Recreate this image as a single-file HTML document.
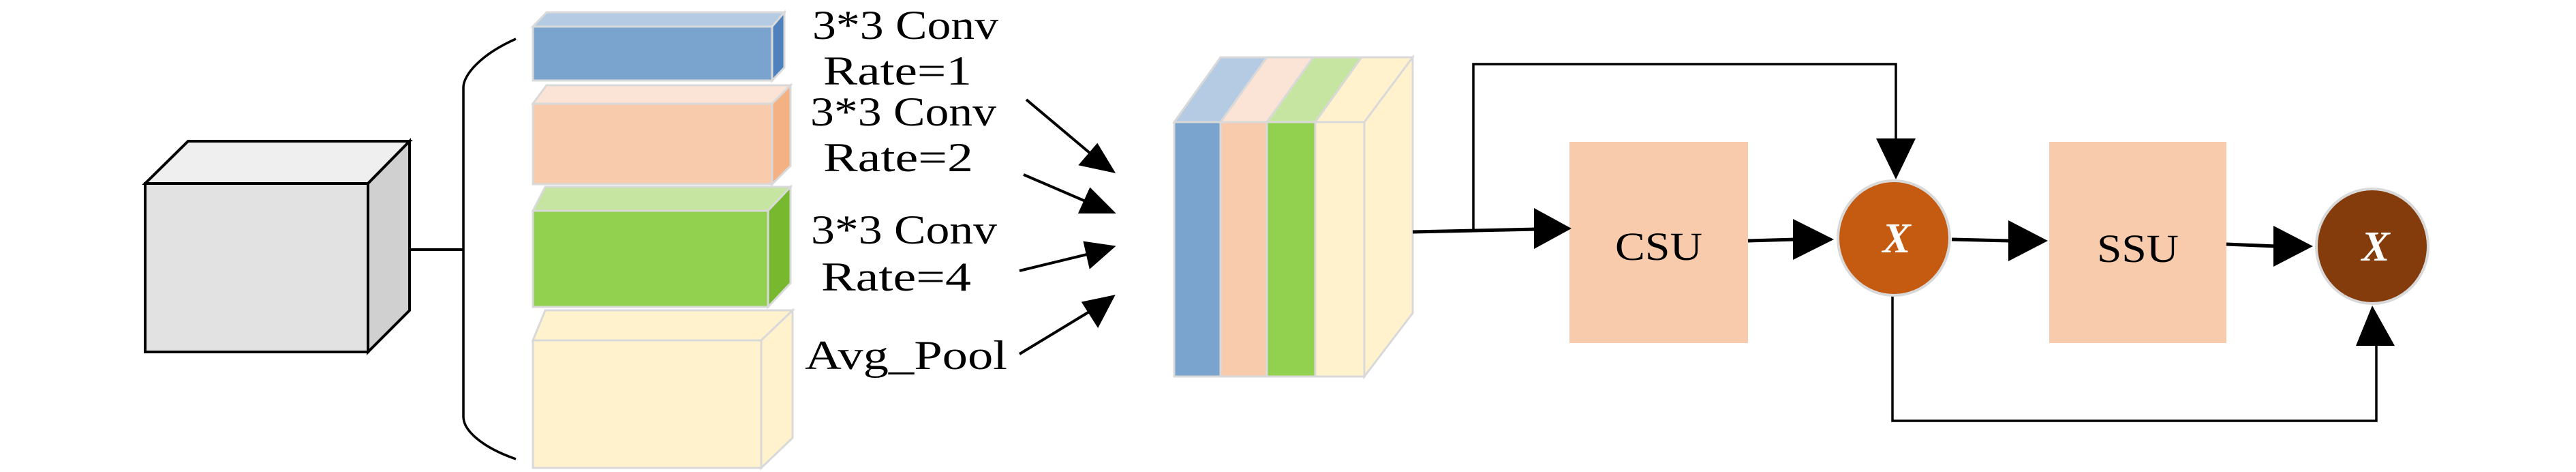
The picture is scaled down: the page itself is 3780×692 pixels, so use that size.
<!DOCTYPE html>
<html><head><meta charset="utf-8"><style>html,body{margin:0;padding:0;background:#fff;}svg{display:block}</style></head>
<body>
<svg width="3780" height="692" viewBox="0 0 3780 692" xmlns="http://www.w3.org/2000/svg">
<defs>
<marker id="ah" markerWidth="10" markerHeight="10" refX="10" refY="5" orient="auto" markerUnits="userSpaceOnUse" viewBox="0 0 10 10">
</marker>
</defs>
<g stroke-linejoin="miter">
<!-- gray cube -->
<polygon points="213,269 276,207 601,207 540,269" fill="#efefef" stroke="#000" stroke-width="4"/>
<polygon points="540,269 601,207 601,455 540,516" fill="#d0d0d0" stroke="#000" stroke-width="4"/>
<rect x="213" y="269" width="327" height="247" fill="#e2e2e2" stroke="#000" stroke-width="4"/>
<line x1="601" y1="366" x2="680" y2="366" stroke="#000" stroke-width="4"/>
<!-- brace -->
<path d="M757,57 C705,80 680,110 680,128 L680,611 C680,630 705,655 757,673" fill="none" stroke="#000" stroke-width="3.5"/>

<!-- blue -->
<polygon points="782,39 802,18 1151,18 1133,39" fill="#b4cbe3" stroke="#d9d9d9" stroke-width="3"/>
<polygon points="1133,39 1151,18 1151,99 1133,118" fill="#4f81bd" stroke="#d9d9d9" stroke-width="3"/>
<rect x="782" y="39" width="351" height="79" fill="#7aa3cd" stroke="#d9d9d9" stroke-width="3"/>
<!-- orange -->
<polygon points="782,152 802,125 1160,125 1133,152" fill="#fbe3d5" stroke="#d9d9d9" stroke-width="3"/>
<polygon points="1133,152 1160,125 1160,243 1133,270" fill="#f4b183" stroke="#d9d9d9" stroke-width="3"/>
<rect x="782" y="152" width="351" height="118" fill="#f8cbad" stroke="#d9d9d9" stroke-width="3"/>
<!-- green -->
<polygon points="782,309 800,274 1160,274 1127,309" fill="#c5e5a0" stroke="#d9d9d9" stroke-width="3"/>
<polygon points="1127,309 1160,274 1160,415 1127,450" fill="#77b82f" stroke="#d9d9d9" stroke-width="3"/>
<rect x="782" y="309" width="345" height="141" fill="#92d050" stroke="#d9d9d9" stroke-width="3"/>
<!-- yellow -->
<polygon points="782,499 800,455 1163,455 1117,499" fill="#fff2cc" stroke="#d9d9d9" stroke-width="3"/>
<polygon points="1117,499 1163,455 1163,642 1117,686" fill="#fff2cc" stroke="#d9d9d9" stroke-width="3"/>
<rect x="782" y="499" width="335" height="187" fill="#fff2cc" stroke="#d9d9d9" stroke-width="3"/>
</g>

<g font-family="'Liberation Serif', serif" font-size="60" fill="#000">
<text x="1192" y="57" textLength="273" lengthAdjust="spacingAndGlyphs">3*3 Conv</text>
<text x="1208" y="124" textLength="218" lengthAdjust="spacingAndGlyphs">Rate=1</text>
<text x="1189" y="184" textLength="273" lengthAdjust="spacingAndGlyphs">3*3 Conv</text>
<text x="1208" y="251" textLength="220" lengthAdjust="spacingAndGlyphs">Rate=2</text>
<text x="1190" y="357" textLength="273" lengthAdjust="spacingAndGlyphs">3*3 Conv</text>
<text x="1205" y="426" textLength="220" lengthAdjust="spacingAndGlyphs">Rate=4</text>
<text x="1181" y="541" textLength="297" lengthAdjust="spacingAndGlyphs">Avg_Pool</text>
</g>

<!-- input arrows -->
<g stroke="#000" stroke-width="4" fill="#000">
<line x1="1506" y1="146" x2="1600" y2="225"/>
<polygon points="1633,251 1586,241 1610,213"/>
<line x1="1502" y1="256" x2="1595" y2="296"/>
<polygon points="1633,311 1585,311 1600,278"/>
<line x1="1496" y1="397" x2="1595" y2="373"/>
<polygon points="1633,362 1600,391 1592,356"/>
<line x1="1496" y1="519" x2="1600" y2="456"/>
<polygon points="1633,435 1611,477 1590,444"/>
</g>

<!-- concat block -->
<g stroke="#d9d9d9" stroke-width="3">
<polygon points="1723,179 1791,179 1859,84 1791,84" fill="#b4cbe3"/>
<polygon points="1791,179 1859,179 1927,84 1859,84" fill="#fbe3d5"/>
<polygon points="1859,179 1930,179 1998,84 1927,84" fill="#c5e5a0"/>
<polygon points="1930,179 2002,179 2073,84 1998,84" fill="#fff2cc"/>
<polygon points="2002,179 2073,84 2073,459 2002,552" fill="#fff2cc"/>
<rect x="1723" y="179" width="68" height="373" fill="#7aa3cd"/>
<rect x="1791" y="179" width="68" height="373" fill="#f8cbad"/>
<rect x="1859" y="179" width="71" height="373" fill="#92d050"/>
<rect x="1930" y="179" width="72" height="373" fill="#fff2cc"/>
</g>

<!-- right part -->
<rect x="2303" y="208" width="262" height="295" fill="#f8cbad"/>
<rect x="3007" y="208" width="260" height="295" fill="#f8cbad"/>
<g font-family="'Liberation Serif', serif" font-size="58" fill="#000" text-anchor="middle">
<text x="2434" y="381" textLength="128" lengthAdjust="spacingAndGlyphs">CSU</text>
<text x="3137" y="384" textLength="120" lengthAdjust="spacingAndGlyphs">SSU</text>
</g>

<g stroke="#000" fill="none">
<line x1="2073" y1="340" x2="2255" y2="336" stroke-width="5"/>
<polyline points="2162,338 2162,94 2782,94 2782,210" stroke-width="3.5"/>
<line x1="2565" y1="353" x2="2635" y2="351" stroke-width="5"/>
<line x1="2864" y1="351" x2="2950" y2="353" stroke-width="5"/>
<line x1="3267" y1="358" x2="3340" y2="361" stroke-width="5"/>
<polyline points="2777,432 2777,617 3487,617 3487,505" stroke-width="3.5"/>
</g>
<g fill="#000">
<polygon points="2306,335 2251,305 2251,365"/>
<polygon points="2782,263 2753,203 2811,203"/>
<polygon points="2691,351 2631,321 2631,381"/>
<polygon points="3005,353 2947,323 2947,383"/>
<polygon points="3394,361 3336,331 3336,391"/>
<polygon points="3481,448 3457,507 3514,507"/>
</g>

<ellipse cx="2779" cy="349" rx="82" ry="84" fill="#c55a11" stroke="#d9d9d9" stroke-width="4"/>
<ellipse cx="3481" cy="361" rx="82" ry="84" fill="#843c0c" stroke="#d9d9d9" stroke-width="4"/>
<g font-family="'Liberation Serif', serif" font-size="62" font-style="italic" font-weight="bold" fill="#fff" text-anchor="middle">
<text x="2783" y="370">X</text>
<text x="3486" y="382">X</text>
</g>
</svg>
</body></html>
